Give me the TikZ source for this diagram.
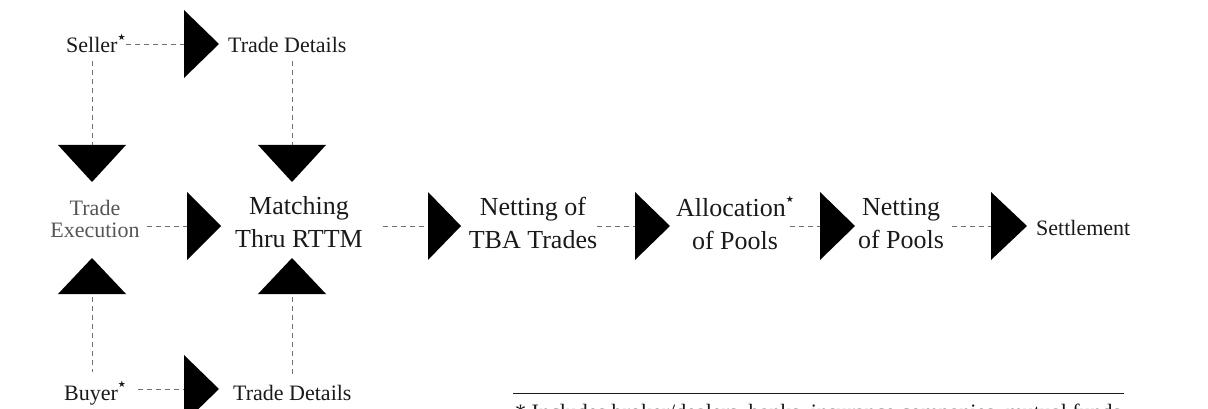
\documentclass[tikz,border=0pt]{standalone}
\usepackage{fontspec}
\setmainfont{Liberation Serif}
\newfontfamily\symfont{DejaVu Sans}
\definecolor{ink}{HTML}{1A1A1A}
\definecolor{lightink}{HTML}{555555}
\definecolor{dashgray}{HTML}{707070}
\newcommand{\mystar}{\raisebox{0.55em}{\symfont\fontsize{9}{9}\selectfont ★}}
\begin{document}
\begin{tikzpicture}[x=1pt,y=-1pt,
  lbl/.style={inner sep=0pt, text=ink, font=\fontsize{22}{22}\selectfont},
  big/.style={inner sep=0pt, text=ink, align=center, font=\fontsize{26}{33}\selectfont},
  conn/.style={draw=dashgray, line width=0.8pt, dash pattern=on 5pt off 4pt},
  tri/.style={fill=black}]
\useasboundingbox (0,0) rectangle (1208,409);
\clip (0,0) rectangle (1208,409);

% triangles (drawn shapes) with named base points
\fill[tri] (184,10) -- (219,44) -- (184,78) -- cycle;   \coordinate (r1) at (184,44);
\fill[tri] (187,192) -- (221,226) -- (187,260) -- cycle; \coordinate (r2) at (187,226);
\fill[tri] (58,145) -- (126,145) -- (92,182) -- cycle;  \coordinate (d1) at (92,145);
\fill[tri] (258,145) -- (326,145) -- (292,182) -- cycle; \coordinate (d2) at (292,145);
\fill[tri] (58,294) -- (126,294) -- (92,258) -- cycle;  \coordinate (u1) at (92,294);
\fill[tri] (258,294) -- (326,294) -- (292,258) -- cycle; \coordinate (u2) at (292,294);
\fill[tri] (184,355) -- (219,389) -- (184,423) -- cycle; \coordinate (r3) at (184,389);
\fill[tri] (428,192) -- (461,226) -- (428,260) -- cycle; \coordinate (r4) at (428,226);
\fill[tri] (635,192) -- (670,226) -- (635,260) -- cycle; \coordinate (r5) at (635,226);
\fill[tri] (820,192) -- (855,226) -- (820,260) -- cycle; \coordinate (r6) at (820,226);
\fill[tri] (991,192) -- (1027,226) -- (991,260) -- cycle; \coordinate (r7) at (991,226);

% text nodes
\node[lbl, anchor=base west] (seller) at (66,53) {Seller\mystar};
\node[lbl, anchor=base west] (tdtop) at (228,53) {Trade Details};
\node[lbl, text=lightink, align=center, font=\fontsize{22}{22}\selectfont] (exec) at (95,219) {Trade\\Execution};
\node[big] (match) at (299,222) {Matching\\Thru RTTM};
\node[big] (tba) at (533,223) {Netting of\\TBA Trades};
\node[big] (alloc) at (735,223) {Allocation\mystar\\of Pools};
\node[big] (netp) at (901,224) {Netting\\of Pools};
\node[lbl, anchor=base west] (settle) at (1036,235) {Settlement};
\node[lbl, anchor=base west] (buyer) at (64,400) {Buyer\mystar};
\node[lbl, anchor=base west] (tdbot) at (233,400) {Trade Details};

% connectors
\draw[conn] (seller.east |- r1) -- (r1);
\draw[conn] (seller.south -| d1) ++(0,8) -- (d1);
\draw[conn] (tdtop.south -| d2) ++(0,8) -- (d2);
\draw[conn] (exec.east |- r2) ++(7,0) -- (r2);
\draw[conn] (match.east |- r4) ++(20,0) -- (r4);
\draw[conn] (tba.east |- r5) -- (r5);
\draw[conn] (alloc.east |- r6) ++(-4,0) -- (r6);
\draw[conn] (netp.east |- r7) ++(8,0) -- (r7);
\draw[conn] (u1) ++(0,3) -- ([yshift=9pt]buyer.north -| u1);
\draw[conn] (u2) ++(0,3) -- ([yshift=9pt]tdbot.north -| u2);
\draw[conn] (buyer.east |- r3) ++(12,0) -- (r3);

% footnote
\coordinate (fnl) at (513,393);
\coordinate (fnr) at (1124,393);
\draw[ink, line width=0.9pt] (fnl) -- (fnr);
\node[lbl, anchor=base west, font=\fontsize{22}{22}\selectfont] (fn) at (515,419) {* Includes broker/dealers, banks, insurance companies, mutual funds};
\end{tikzpicture}
\end{document}
